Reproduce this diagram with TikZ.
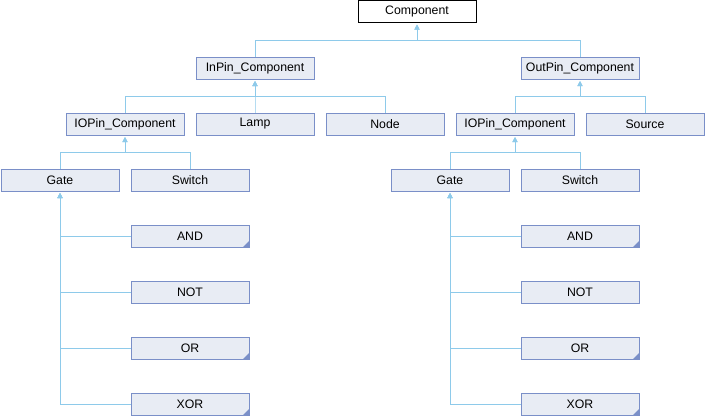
\documentclass[tikz,border=0pt]{standalone}
\usepackage{fontspec}
\setmainfont{Liberation Sans}
\usetikzlibrary{arrows.meta,calc}
\definecolor{boxfill}{HTML}{E8ECF4}
\definecolor{boxframe}{HTML}{7A8FC8}
\definecolor{linkcol}{HTML}{8ECAEA}
\tikzset{
  cls/.style={draw=boxframe, fill=boxfill, line width=1pt, minimum width=118pt, minimum height=22pt, inner sep=0pt, font=\fontsize{12.3}{14}\selectfont},
  root/.style={cls, draw=black, fill=white},
  corner/.style={path picture={\fill[boxframe] (path picture bounding box.south east) -- ++(-6pt,0pt) -- ++(6pt,6pt) -- cycle;}},
  link/.style={draw=linkcol, line width=1pt},
  inh/.style={link, -{Triangle[width=5pt,length=5pt]}, shorten >=1.5pt}
}
\begin{document}
\begin{tikzpicture}[x=1pt,y=-1pt]
\useasboundingbox (0,0) rectangle (705,416);
\node[root] (comp) at (417,11.5) {Component};
\node[cls] (inpin) at (255,68) {InPin\_Component};
\node[cls] (outpin) at (580,68) {OutPin\_Component};
\node[cls] (ioa) at (125,124) {IOPin\_Component};
\node[cls] (lamp) at (255,124) {Lamp};
\node[cls] (nodec) at (385,124) {Node};
\node[cls] (iob) at (515,124) {IOPin\_Component};
\node[cls] (source) at (645,124) {Source};
\node[cls] (gatea) at (60,180) {Gate};
\node[cls] (switcha) at (190,180) {Switch};
\node[cls] (gateb) at (450,180) {Gate};
\node[cls] (switchb) at (580,180) {Switch};
\node[cls,corner] (anda) at (190,236) {AND};
\node[cls] (nota) at (190,292) {NOT};
\node[cls,corner] (ora) at (190,348) {OR};
\node[cls,corner] (xora) at (190,404) {XOR};
\node[cls,corner] (andb) at (580,236) {AND};
\node[cls] (notb) at (580,292) {NOT};
\node[cls,corner] (orb) at (580,348) {OR};
\node[cls,corner] (xorb) at (580,404) {XOR};
% level 1
\foreach \c in {inpin,outpin}
  \draw[inh] (\c.north) |- ($(comp.south)+(0,17.3)$) -- (comp.south);
\foreach \c in {ioa,lamp,nodec}
  \draw[inh] (\c.north) |- ($(inpin.south)+(0,17)$) -- (inpin.south);
\foreach \c in {iob,source}
  \draw[inh] (\c.north) |- ($(outpin.south)+(0,17)$) -- (outpin.south);
\foreach \c in {gatea,switcha}
  \draw[inh] (\c.north) |- ($(ioa.south)+(0,17)$) -- (ioa.south);
\foreach \c in {gateb,switchb}
  \draw[inh] (\c.north) |- ($(iob.south)+(0,17)$) -- (iob.south);
\foreach \c in {anda,nota,ora,xora}
  \draw[inh] (\c.west) -| (gatea.south);
\foreach \c in {andb,notb,orb,xorb}
  \draw[inh] (\c.west) -| (gateb.south);
\end{tikzpicture}
\end{document}
